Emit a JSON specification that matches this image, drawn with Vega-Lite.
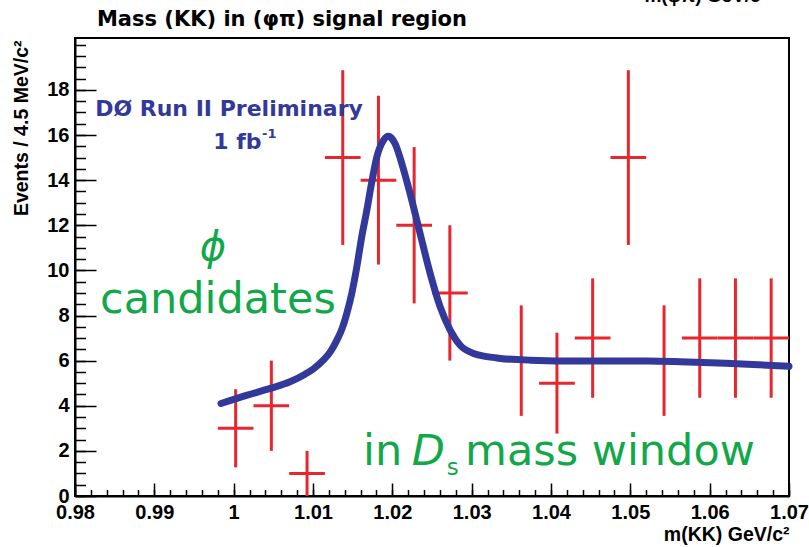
{
  "$schema": "https://vega.github.io/schema/vega-lite/v6.json",
  "width": 714,
  "height": 458,
  "autosize": {"type": "none"},
  "padding": {"left": 75, "top": 38, "right": 20, "bottom": 51},
  "background": "white",
  "config": {
    "view": {"stroke": "black", "strokeWidth": 2},
    "axis": {
      "grid": false,
      "domainColor": "black",
      "domainWidth": 2,
      "tickColor": "black",
      "tickWidth": 1.5,
      "labelFont": "Liberation Sans",
      "labelFontWeight": "bold",
      "labelFontSize": 20,
      "labelColor": "black",
      "labelFlush": false,
      "labelOverlap": false,
      "titleFont": "Liberation Sans",
      "titleFontWeight": "bold",
      "titleFontSize": 19.5,
      "titleColor": "black"
    }
  },
  "datasets": {
    "hist": [
      {"m": 1.00025, "lo": 0.998, "hi": 1.0025, "n": 3, "nlo": 1.268, "nhi": 4.732},
      {"m": 1.00475, "lo": 1.0025, "hi": 1.007, "n": 4, "nlo": 2, "nhi": 6},
      {"m": 1.00925, "lo": 1.007, "hi": 1.0115, "n": 1, "nlo": 0, "nhi": 2},
      {"m": 1.01375, "lo": 1.0115, "hi": 1.016, "n": 15, "nlo": 11.127, "nhi": 18.873},
      {"m": 1.01825, "lo": 1.016, "hi": 1.0205, "n": 14, "nlo": 10.258, "nhi": 17.742},
      {"m": 1.02275, "lo": 1.0205, "hi": 1.025, "n": 12, "nlo": 8.536, "nhi": 15.464},
      {"m": 1.02725, "lo": 1.025, "hi": 1.0295, "n": 9, "nlo": 6, "nhi": 12},
      {"m": 1.03625, "lo": 1.034, "hi": 1.0385, "n": 6, "nlo": 3.551, "nhi": 8.449},
      {"m": 1.04075, "lo": 1.0385, "hi": 1.043, "n": 5, "nlo": 2.764, "nhi": 7.236},
      {"m": 1.04525, "lo": 1.043, "hi": 1.0475, "n": 7, "nlo": 4.354, "nhi": 9.646},
      {"m": 1.04975, "lo": 1.0475, "hi": 1.052, "n": 15, "nlo": 11.127, "nhi": 18.873},
      {"m": 1.05425, "lo": 1.052, "hi": 1.0565, "n": 6, "nlo": 3.551, "nhi": 8.449},
      {"m": 1.05875, "lo": 1.0565, "hi": 1.061, "n": 7, "nlo": 4.354, "nhi": 9.646},
      {"m": 1.06325, "lo": 1.061, "hi": 1.0655, "n": 7, "nlo": 4.354, "nhi": 9.646},
      {"m": 1.06775, "lo": 1.0655, "hi": 1.07, "n": 7, "nlo": 4.354, "nhi": 9.646}
    ],
    "fit": [
      {"m": 0.9984, "f": 4.10},
      {"m": 1.0017, "f": 4.47},
      {"m": 1.0046, "f": 4.77},
      {"m": 1.0071, "f": 5.06},
      {"m": 1.0090, "f": 5.40},
      {"m": 1.0100, "f": 5.62},
      {"m": 1.0113, "f": 6.02},
      {"m": 1.0122, "f": 6.40},
      {"m": 1.0130, "f": 6.90},
      {"m": 1.0137, "f": 7.45},
      {"m": 1.01426, "f": 8.09},
      {"m": 1.0149, "f": 9.00},
      {"m": 1.01552, "f": 10.15},
      {"m": 1.0161, "f": 11.40},
      {"m": 1.01678, "f": 12.66},
      {"m": 1.0174, "f": 13.90},
      {"m": 1.01804, "f": 15.02},
      {"m": 1.01888, "f": 15.76},
      {"m": 1.0195, "f": 15.94},
      {"m": 1.02035, "f": 15.61},
      {"m": 1.0212, "f": 14.73},
      {"m": 1.02224, "f": 13.40},
      {"m": 1.0235, "f": 11.63},
      {"m": 1.02477, "f": 9.86},
      {"m": 1.02603, "f": 8.38},
      {"m": 1.02729, "f": 7.35},
      {"m": 1.02855, "f": 6.68},
      {"m": 1.03023, "f": 6.32},
      {"m": 1.03317, "f": 6.12},
      {"m": 1.0374, "f": 6.02},
      {"m": 1.0437, "f": 5.98},
      {"m": 1.0521, "f": 5.98},
      {"m": 1.0563, "f": 5.95},
      {"m": 1.0620, "f": 5.88},
      {"m": 1.0700, "f": 5.75}
    ],
    "one": [{}]
  },
  "layer": [
    {
      "data": {"name": "hist"},
      "mark": {"type": "rule", "color": "#e8262d", "strokeWidth": 3},
      "encoding": {
        "x": {
          "field": "m", "type": "quantitative",
          "scale": {"domain": [0.98, 1.07], "nice": false, "zero": false},
          "axis": {
            "orient": "bottom", "title": "m(KK) GeV/c²",
            "values": [0.98, 0.99, 1, 1.01, 1.02, 1.03, 1.04, 1.05, 1.06, 1.07],
            "format": ".3~g", "ticks": false, "domain": true, "labelPadding": 6,
            "titleX": 714, "titleY": 44, "titleAlign": "right", "titleBaseline": "alphabetic"
          }
        },
        "y": {
          "field": "nlo", "type": "quantitative",
          "scale": {"domain": [0, 20.3], "nice": false, "zero": true},
          "axis": {
            "orient": "left", "title": "Events / 4.5 MeV/c²",
            "values": [0, 2, 4, 6, 8, 10, 12, 14, 16, 18],
            "ticks": false, "domain": true, "labelPadding": 6,
            "titleX": -54, "titleY": 2, "titleAngle": 270, "titleAlign": "right", "titleBaseline": "middle"
          }
        },
        "y2": {"field": "nhi"}
      }
    },
    {
      "data": {"name": "hist"},
      "mark": {"type": "rule", "color": "#e8262d", "strokeWidth": 3},
      "encoding": {
        "x": {
          "field": "lo", "type": "quantitative",
          "axis": {
            "orient": "bottom", "title": null, "labels": false, "domain": false,
            "values": [0.98, 0.99, 1, 1.01, 1.02, 1.03, 1.04, 1.05, 1.06, 1.07],
            "tickSize": -13
          }
        },
        "x2": {"field": "hi"},
        "y": {
          "field": "n", "type": "quantitative",
          "axis": {
            "orient": "left", "title": null, "labels": false, "domain": false,
            "values": [0, 2, 4, 6, 8, 10, 12, 14, 16, 18],
            "tickSize": -21
          }
        }
      }
    },
    {
      "data": {"name": "fit"},
      "mark": {"type": "line", "color": "#33399a", "strokeWidth": 7, "interpolate": "monotone", "strokeCap": "round", "strokeJoin": "round"},
      "encoding": {
        "x": {
          "field": "m", "type": "quantitative",
          "axis": {
            "orient": "bottom", "title": null, "labels": false, "domain": false,
            "values": [0.98, 0.982, 0.984, 0.986, 0.988, 0.99, 0.992, 0.994, 0.996, 0.998, 1, 1.002, 1.004, 1.006, 1.008, 1.01, 1.012, 1.014, 1.016, 1.018, 1.02, 1.022, 1.024, 1.026, 1.028, 1.03, 1.032, 1.034, 1.036, 1.038, 1.04, 1.042, 1.044, 1.046, 1.048, 1.05, 1.052, 1.054, 1.056, 1.058, 1.06, 1.062, 1.064, 1.066, 1.068, 1.07],
            "tickSize": -6.5
          }
        },
        "y": {
          "field": "f", "type": "quantitative",
          "axis": {
            "orient": "left", "title": null, "labels": false, "domain": false,
            "values": [0, 0.5, 1, 1.5, 2, 2.5, 3, 3.5, 4, 4.5, 5, 5.5, 6, 6.5, 7, 7.5, 8, 8.5, 9, 9.5, 10, 10.5, 11, 11.5, 12, 12.5, 13, 13.5, 14, 14.5, 15, 15.5, 16, 16.5, 17, 17.5, 18, 18.5, 19, 19.5, 20],
            "tickSize": -10.5
          }
        }
      }
    },
    {
      "data": {"name": "one"},
      "mark": {"type": "text", "text": "Mass (KK) in (φπ) signal region", "font": "DejaVu Sans", "fontWeight": "bold", "fontSize": 21, "color": "black", "align": "left", "baseline": "alphabetic"},
      "encoding": {
        "x": {"datum": 0.98277, "type": "quantitative", "axis": null},
        "y": {"datum": 20.832, "type": "quantitative", "axis": null}
      }
    },
    {
      "data": {"name": "one"},
      "mark": {"type": "text", "text": "DØ Run II Preliminary", "font": "DejaVu Sans", "fontWeight": "bold", "fontSize": 22, "color": "#33399a", "align": "center", "baseline": "alphabetic"},
      "encoding": {
        "x": {"datum": 0.99941, "type": "quantitative", "axis": null},
        "y": {"datum": 16.83, "type": "quantitative", "axis": null}
      }
    },
    {
      "data": {"name": "one"},
      "mark": {"type": "text", "text": "1 fb", "font": "DejaVu Sans", "fontWeight": "bold", "fontSize": 22, "color": "#33399a", "align": "left", "baseline": "alphabetic"},
      "encoding": {
        "x": {"datum": 0.99743, "type": "quantitative", "axis": null},
        "y": {"datum": 15.36, "type": "quantitative", "axis": null}
      }
    },
    {
      "data": {"name": "one"},
      "mark": {"type": "text", "text": "-1", "font": "DejaVu Sans", "fontWeight": "bold", "fontSize": 13, "color": "#33399a", "align": "left", "baseline": "alphabetic"},
      "encoding": {
        "x": {"datum": 1.00357, "type": "quantitative", "axis": null},
        "y": {"datum": 15.85, "type": "quantitative", "axis": null}
      }
    },
    {
      "data": {"name": "one"},
      "mark": {"type": "text", "text": "ϕ", "font": "DejaVu Sans", "fontStyle": "italic", "fontSize": 40, "color": "#12a84a", "align": "center", "baseline": "alphabetic"},
      "encoding": {
        "x": {"datum": 0.9974, "type": "quantitative", "axis": null},
        "y": {"datum": 10.48, "type": "quantitative", "axis": null}
      }
    },
    {
      "data": {"name": "one"},
      "mark": {"type": "text", "text": "candidates", "font": "DejaVu Sans", "fontSize": 43, "color": "#12a84a", "align": "left", "baseline": "alphabetic"},
      "encoding": {
        "x": {"datum": 0.98315, "type": "quantitative", "axis": null},
        "y": {"datum": 8.13, "type": "quantitative", "axis": null}
      }
    },
    {
      "data": {"name": "one"},
      "mark": {"type": "text", "text": "in", "font": "DejaVu Sans", "fontSize": 43, "color": "#12a84a", "align": "left", "baseline": "alphabetic"},
      "encoding": {
        "x": {"datum": 1.0163, "type": "quantitative", "axis": null},
        "y": {"datum": 1.364, "type": "quantitative", "axis": null}
      }
    },
    {
      "data": {"name": "one"},
      "mark": {"type": "text", "text": "D", "font": "DejaVu Sans", "fontStyle": "italic", "fontSize": 43, "color": "#12a84a", "align": "left", "baseline": "alphabetic"},
      "encoding": {
        "x": {"datum": 1.02244, "type": "quantitative", "axis": null},
        "y": {"datum": 1.364, "type": "quantitative", "axis": null}
      }
    },
    {
      "data": {"name": "one"},
      "mark": {"type": "text", "text": "s", "font": "DejaVu Sans", "fontSize": 23, "color": "#12a84a", "align": "left", "baseline": "alphabetic"},
      "encoding": {
        "x": {"datum": 1.02685, "type": "quantitative", "axis": null},
        "y": {"datum": 0.92, "type": "quantitative", "axis": null}
      }
    },
    {
      "data": {"name": "one"},
      "mark": {"type": "text", "text": "mass window", "font": "DejaVu Sans", "fontSize": 43, "color": "#12a84a", "align": "left", "baseline": "alphabetic"},
      "encoding": {
        "x": {"datum": 1.02916, "type": "quantitative", "axis": null},
        "y": {"datum": 1.364, "type": "quantitative", "axis": null}
      }
    },
    {
      "data": {"name": "one"},
      "mark": {"type": "text", "text": "m(φπ) GeV/c²", "font": "Liberation Sans", "fontWeight": "bold", "fontSize": 19, "color": "black", "align": "right", "baseline": "alphabetic"},
      "encoding": {
        "x": {"datum": 1.06723, "type": "quantitative", "axis": null},
        "y": {"datum": 21.88, "type": "quantitative", "axis": null}
      }
    }
  ],
  "resolve": {"axis": {"x": "independent", "y": "independent"}}
}
